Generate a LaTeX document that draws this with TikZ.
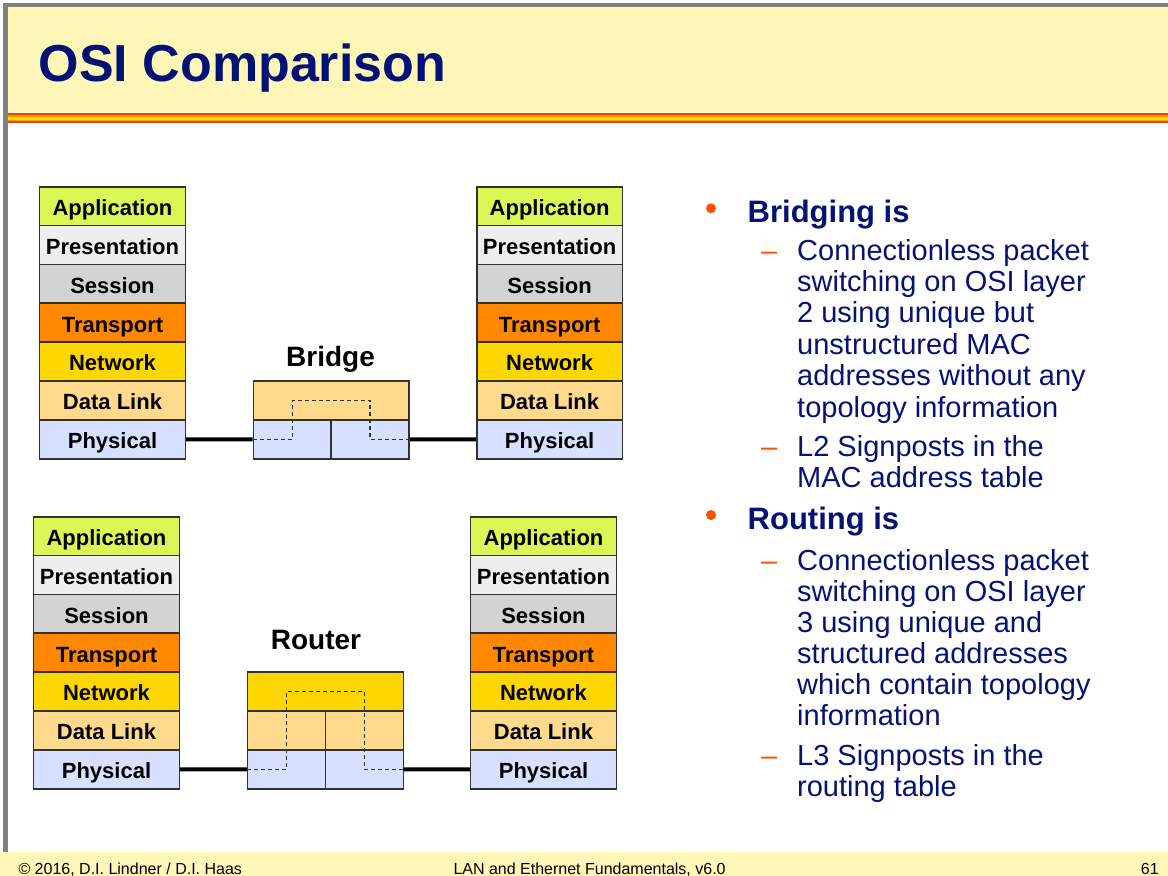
\documentclass[tikz,border=0pt]{standalone}
\usepackage{fontspec}
\setmainfont{Liberation Sans}
\usetikzlibrary{calc}

\definecolor{appcol}{RGB}{218,247,86}
\definecolor{prescol}{RGB}{238,238,238}
\definecolor{sesscol}{RGB}{211,211,211}
\definecolor{transcol}{RGB}{255,136,0}
\definecolor{netcol}{RGB}{255,215,0}
\definecolor{linkcol}{RGB}{255,217,140}
\definecolor{physcol}{RGB}{216,224,255}
\definecolor{slidenavy}{RGB}{4,18,118}
\definecolor{slidered}{RGB}{255,80,0}
\definecolor{bandcol}{RGB}{255,247,184}
\definecolor{framegray}{RGB}{128,128,128}
\definecolor{boxline}{RGB}{50,50,50}
\definecolor{stripered}{RGB}{228,72,20}
\definecolor{stripeorange}{RGB}{255,150,0}
\definecolor{stripeyellow}{RGB}{255,224,0}

\tikzset{
  layer/.style={draw=boxline, line width=1.6pt, inner sep=0pt, minimum width=145.7pt,
    minimum height=38.86pt, text height=18.6pt, text depth=0pt,
    font=\fontsize{22}{26}\selectfont\bfseries},
  devbox/.style={layer, minimum width=155.7pt},
  devhalf/.style={layer, minimum width=77.85pt},
  link/.style={line width=4pt, color=black},
  fwdpath/.style={line width=1.4pt, color=boxline, dash pattern=on 4pt off 3pt},
  devlabel/.style={anchor=base, inner sep=0pt, font=\fontsize{28}{32}\selectfont\bfseries},
  headtext/.style={anchor=base west, inner sep=0pt, text=slidenavy, font=\fontsize{31}{36}\selectfont\bfseries},
  subtext/.style={anchor=base west, inner sep=0pt, text=slidenavy, font=\fontsize{29}{32}\selectfont},
  dashmark/.style={anchor=base west, inner sep=0pt, text=slidered, font=\fontsize{29}{32}\selectfont},
  foottext/.style={anchor=base west, inner sep=0pt, font=\fontsize{16}{18}\selectfont}
}

% one OSI stack, (x of centre, y of top) and a name prefix
\def\osistack(#1,#2)#3{%
  \foreach \lname/\lcol [count=\i] in {Application/appcol,Presentation/prescol,Session/sesscol,Transport/transcol,Network/netcol,Data Link/linkcol,Physical/physcol}
    \node[layer, fill=\lcol] (#3\i) at (#1,#2+\i*38.86-19.43) {\lname};
}

\begin{document}
\begin{tikzpicture}[x=1pt, y=-1pt]
			%%%%% START %%%%%
			\useasboundingbox (0,0) rectangle (1168,876);
			
			% slide frame, title band, stripe, footer band
			\fill[framegray] (3.3,3.3) rectangle (1168,7.3);
			\fill[framegray] (3.3,3.3) rectangle (8.3,851.7);
			\fill[bandcol] (8.3,7.3) rectangle (1168,113.3);
			\fill[stripered] (8.3,113.3) rectangle (1168,115.3);
			\fill[stripeorange] (8.3,115.3) rectangle (1168,117.1);
			\fill[stripeyellow] (8.3,117.1) rectangle (1168,119.5);
			\fill[stripeorange] (8.3,119.5) rectangle (1168,121.3);
			\fill[stripered] (8.3,121.3) rectangle (1168,123.3);
			\fill[bandcol] (0,851.7) rectangle (1168,876);
			
			\node[anchor=base west, inner sep=0pt, text=slidenavy, font=\fontsize{52}{60}\selectfont\bfseries] (title) at (38.5,81.7) {OSI Comparison};
			
			% stacks
			\osistack(112.5,186.7){tl}
			\osistack(549.6,186.7){tr}
			\osistack(106.5,516.7){bl}
			\osistack(543.5,516.7){br}
			
			% bridge
			\node[devlabel] (brlabel) at (330.5,366.7) {Bridge};
			\node[devbox, fill=linkcol] (brtop) at (331.2,400.35) {};
			\node[devhalf, fill=physcol] (brl) at (292.3,439.35) {};
			\node[devhalf, fill=physcol] (brr) at (370.1,439.35) {};
			\draw[fwdpath] (brl.west) -- (brl.center) -- (brl.center |- brtop.center) -- (brr.center |- brtop.center) -- (brr.center) -- (brr.east);
			\draw[link] (tl7.east) -- (brl.west);
			\draw[link] (brr.east) -- (tr7.west);
			
			% router
			\node[devlabel] (rtlabel) at (316,649) {Router};
			\node[devbox, fill=netcol] (rtop) at (325.5,691.6) {};
			\node[devhalf, fill=linkcol] (rdl) at (286.6,730.45) {};
			\node[devhalf, fill=linkcol] (rdr) at (364.4,730.45) {};
			\node[devhalf, fill=physcol] (rpl) at (286.6,769.3) {};
			\node[devhalf, fill=physcol] (rpr) at (364.4,769.3) {};
			\draw[fwdpath] (rpl.west) -- (rpl.center) -- (rpl.center |- rtop.center) -- (rpr.center |- rtop.center) -- (rpr.center) -- (rpr.east);
			\draw[link] (bl7.east) -- (rpl.west);
			\draw[link] (rpr.east) -- (br7.west);
			
			% bridging is
			\fill[slidered] (711,208.3) circle (5);
			\node[headtext] (bhead) at (747.5,222.7) {Bridging is};
			\node[dashmark] (bd1) at (761,260) {–};
			\foreach \txt [count=\k from 0] in {Connectionless packet,switching on OSI layer,2 using unique but,unstructured MAC,addresses without any,topology information}
				\node[subtext] (bt\k) at (797,260+\k*31.4) {\txt};
			\node[dashmark] (bd2) at (761,456) {–};
			\node[subtext] (bs1) at (797,456) {L2 Signposts in the};
			\node[subtext] (bs2) at (797,487) {MAC address table};
			
			% routing is
			\fill[slidered] (711,515) circle (5);
			\node[headtext] (rhead) at (747.5,529.3) {Routing is};
			\node[dashmark] (rd1) at (761,570) {–};
			\foreach \txt [count=\k from 0] in {Connectionless packet,switching on OSI layer,3 using unique and,structured addresses,which contain topology,information}
				\node[subtext] (rt\k) at (797,570+\k*31) {\txt};
			\node[dashmark] (rd2) at (761,765) {–};
			\node[subtext] (rs1) at (797,765) {L3 Signposts in the};
			\node[subtext] (rs2) at (797,796) {routing table};
			
			% footer
			\node[foottext] (fleft) at (18.3,874) {© 2016, D.I. Lindner / D.I. Haas};
			\node[foottext] (fmid) at (453.3,874) {LAN and Ethernet Fundamentals, v6.0};
			\node[foottext] (fpage) at (1140.7,874) {61};
			
			%%%%% END %%%%%
		\end{tikzpicture}
\end{document}
